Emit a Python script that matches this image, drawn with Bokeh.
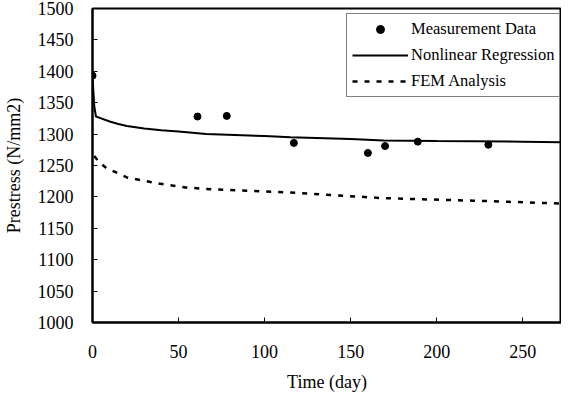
from bokeh.plotting import figure
from bokeh.models import Range1d, Legend, LegendItem, FixedTicker
from bokeh.embed import file_html
from bokeh.resources import INLINE

# ---- data ----
measure_day = [0, 61, 78, 117, 160, 170, 189, 230]
measure_val = [1393, 1328, 1329, 1286, 1270, 1281, 1288, 1283]

regression_day = [0, 1, 2, 5, 10, 15, 20, 30, 40, 50, 66, 100, 115, 150, 169, 200, 250, 278]
regression_val = [1393, 1345, 1328, 1325, 1320, 1316, 1313, 1309, 1306, 1304, 1300, 1297, 1295, 1292, 1290, 1289, 1288, 1287]

fem_day = [1, 4, 8, 20, 37, 54, 70, 115, 169, 221, 278]
fem_val = [1265, 1255, 1246, 1231, 1222, 1215, 1212, 1207, 1198, 1194, 1189]

x_ticks = [0, 50, 100, 150, 200, 250]
y_ticks = [1000, 1050, 1100, 1150, 1200, 1250, 1300, 1350, 1400, 1450, 1500]

FONT = "Liberation Serif"

p = figure(width=561, height=394, output_backend="svg", toolbar_location=None,
           x_range=Range1d(0, 272.5), y_range=Range1d(1000, 1500))
p.min_border_left = 88
p.min_border_right = 0
p.min_border_top = 8
p.min_border_bottom = 69
p.xgrid.visible = False
p.ygrid.visible = False
p.outline_line_color = "black"
p.outline_line_width = 2
p.background_fill_color = "white"
p.border_fill_color = "white"

for ax in (p.xaxis[0], p.yaxis[0]):
    ax.axis_line_width = 2
    ax.axis_line_color = "black"
    ax.major_tick_in = 5
    ax.major_tick_out = 0
    ax.minor_tick_in = 0
    ax.minor_tick_out = 0
    ax.major_label_text_font = FONT
    ax.major_label_text_font_size = "18px"
    ax.major_label_text_color = "black"
    ax.axis_label_text_font = FONT
    ax.axis_label_text_font_size = "18px"
    ax.axis_label_text_font_style = "normal"
    ax.axis_label_text_color = "black"

p.xaxis.ticker = FixedTicker(ticks=x_ticks)
p.yaxis.ticker = FixedTicker(ticks=y_ticks)
p.xaxis.axis_label = "Time (day)"
p.yaxis.axis_label = "Prestress (N/mm2)"
p.xaxis.major_label_standoff = 22
p.xaxis.axis_label_standoff = 11
p.yaxis.major_label_standoff = 19
p.yaxis.axis_label_standoff = 11

r_reg = p.line(regression_day, regression_val, line_color="black", line_width=2)
r_fem = p.line(fem_day, fem_val, line_color="black", line_width=2.5, line_dash="5 7")
r_meas = p.scatter(measure_day, measure_val, size=7, color="black")

legend = Legend(items=[
    LegendItem(label="Measurement Data", renderers=[r_meas]),
    LegendItem(label="Nonlinear Regression", renderers=[r_reg]),
    LegendItem(label="FEM Analysis", renderers=[r_fem]),
], location=(254, 225))
legend.label_text_font = FONT
legend.label_text_font_size = "16.5px"
legend.label_text_color = "black"
legend.border_line_color = "black"
legend.border_line_width = 1
legend.padding = 5
legend.spacing = 6
legend.margin = 0
legend.glyph_width = 56
legend.glyph_height = 20
legend.label_height = 20
legend.label_standoff = 3
legend.background_fill_alpha = 1
p.add_layout(legend, "center")

open("out.html", "w").write(file_html(p, INLINE))
